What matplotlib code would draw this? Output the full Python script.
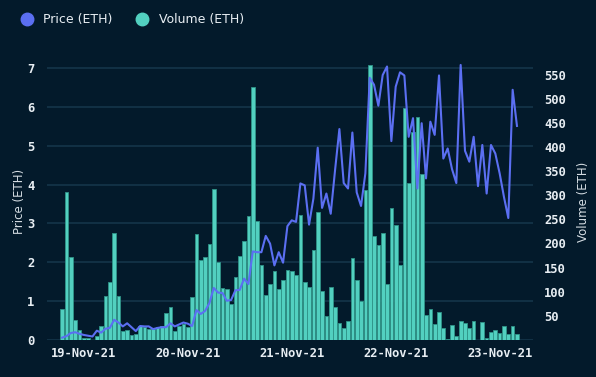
import matplotlib
matplotlib.use('Agg')
import matplotlib.pyplot as plt
import matplotlib.dates as mdates
from matplotlib.lines import Line2D
from datetime import datetime, timedelta

# hourly data from 18-Nov-21 19:00
start = datetime(2021, 11, 18, 19)

volume = [64, 307, 173, 42, 21, 5, 5, 1, 9, 30,
          92, 121, 222, 92, 19, 21, 10, 12, 28, 27,
          23, 23, 27, 29, 56, 68, 19, 29, 33, 26,
          90, 219, 165, 173, 198, 312, 161, 108, 105, 75,
          130, 175, 206, 256, 525, 247, 156, 93, 116, 143,
          105, 125, 145, 142, 134, 258, 120, 109, 187, 265,
          102, 50, 110, 68, 35, 25, 39, 169, 125, 81,
          310, 570, 215, 196, 221, 117, 273, 239, 155, 480,
          326, 431, 463, 345, 51, 64, 34, 58, 25, 2,
          32, 9, 39, 36, 24, 39, 1, 37, 5, 17,
          21, 15, 29, 12, 29, 13]

price = [0.06, 0.10, 0.18, 0.20, 0.16, 0.13, 0.11, 0.09, 0.24, 0.19,
         0.29, 0.31, 0.52, 0.45, 0.35, 0.43, 0.33, 0.23, 0.36, 0.35,
         0.35, 0.28, 0.31, 0.33, 0.33, 0.43, 0.35, 0.40, 0.45, 0.42,
         0.36, 0.77, 0.67, 0.75, 0.95, 1.34, 1.22, 1.21, 1.01, 1.03,
         1.28, 1.29, 1.58, 1.44, 2.28, 2.26, 2.26, 2.68, 2.48, 1.92,
         2.26, 1.99, 2.93, 3.08, 3.04, 4.03, 3.98, 2.97, 3.64, 4.95,
         3.40, 3.77, 3.25, 4.37, 5.43, 4.04, 3.90, 5.34, 3.80, 3.45,
         4.29, 6.75, 6.57, 6.03, 6.82, 7.04, 5.12, 6.52, 6.89, 6.81,
         5.23, 5.71, 3.90, 5.58, 4.16, 5.62, 5.28, 6.81, 4.67, 4.93,
         4.40, 4.04, 7.08, 4.87, 4.59, 5.23, 3.96, 5.02, 3.77, 5.02,
         4.80, 4.29, 3.68, 3.14, 6.44, 5.51]

times = [start + timedelta(hours=i) for i in range(len(volume))]

price_ticks = [0, 1, 2, 3, 4, 5, 6, 7]
volume_ticks = [50, 100, 150, 200, 250, 300, 350, 400, 450, 500, 550]

bg = '#031a2b'
grid_col = '#15354a'
line_col = '#5b6ff2'
bar_col = '#52d0c0'
text_col = '#e8eef3'

fig = plt.figure(figsize=(5.96, 3.77), dpi=100, facecolor=bg)
ax = fig.add_axes([47 / 596, 1 - 340 / 377, 486 / 596, 277 / 377])
ax.set_facecolor(bg)
ax2 = ax.twinx()

# volume bars on the right axis
ax2.bar(times, volume, width=0.85 / 24, color=bar_col,
        edgecolor='#2f9488', linewidth=0.6, zorder=2)

# price line drawn above the bars, in price units
ax2.plot(times, price, color=line_col, linewidth=1.5, zorder=3,
         transform=ax.transData)

ax.set_ylim(0, 7.13)
ax2.set_ylim(0, 574)
ax.set_xlim(start - timedelta(hours=3.5), start + timedelta(hours=108.7))

ax.set_yticks(price_ticks)
ax2.set_yticks(volume_ticks)
ax.yaxis.grid(True, color=grid_col, linewidth=1.2)
ax.set_axisbelow(True)

ax.xaxis.set_major_locator(mdates.DayLocator())
ax.xaxis.set_major_formatter(mdates.DateFormatter('%d-%b-%y'))

tick_font = dict(family='DejaVu Sans Mono', weight='bold', size=8.7)
for a in (ax, ax2):
    for s in a.spines.values():
        s.set_visible(False)
    a.tick_params(length=0, colors=text_col)
for lab in ax.get_xticklabels() + ax.get_yticklabels() + ax2.get_yticklabels():
    lab.set_fontfamily(tick_font['family'])
    lab.set_fontweight(tick_font['weight'])
    lab.set_fontsize(tick_font['size'])
ax.tick_params(axis='y', pad=9)
ax.tick_params(axis='x', pad=5)
ax2.tick_params(axis='y', pad=8)

ax.set_ylabel('Price (ETH)', color='#d5dde3', fontsize=8.5, labelpad=1)
ax2.set_ylabel('Volume (ETH)', color='#d5dde3', fontsize=8.5, labelpad=8)

handles = [Line2D([], [], marker='o', linestyle='none', markersize=9,
                  color=line_col, label='Price (ETH)'),
           Line2D([], [], marker='o', linestyle='none', markersize=9,
                  color=bar_col, label='Volume (ETH)')]
leg = fig.legend(handles=handles, loc='upper left', bbox_to_anchor=(0.005, 0.995),
                 ncol=2, frameon=False, fontsize=9, handletextpad=0.3,
                 columnspacing=1.4, labelcolor=text_col)

fig.savefig('out.png', dpi=100, facecolor=bg)
